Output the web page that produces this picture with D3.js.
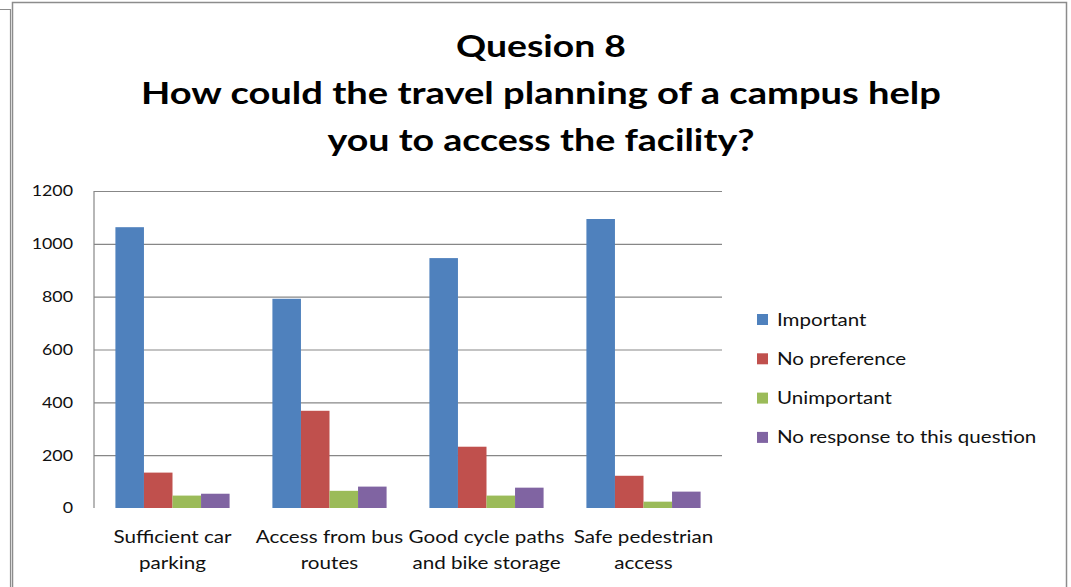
<!DOCTYPE html>
<html>
<head>
<meta charset="utf-8">
<script src="https://cdn.jsdelivr.net/npm/d3@7"></script>
<style>
  html, body { margin: 0; padding: 0; background: #fff; }
  svg { display: block; }
  text { font-family: Lato, "Open Sans", sans-serif; }
</style>
</head>
<body>
<svg id="chart" width="1071" height="587"></svg>
<script>
// ---- Data ----
const categories = [
  ["Sufficient car", "parking"],
  ["Access from bus", "routes"],
  ["Good cycle paths", "and bike storage"],
  ["Safe pedestrian", "access"]
];
const seriesNames = ["Important", "No preference", "Unimportant", "No response to this question"];
const important    = [1063, 792, 946, 1094];
const noPreference = [134, 368, 232, 122];
const unimportant  = [47, 65, 47, 24];
const noResponse   = [54, 81, 77, 62];
const yTicks = [0, 200, 400, 600, 800, 1000, 1200];
const titleLines = ["Quesion 8", "How could the travel planning of a campus help", "you to access the facility?"];
const colors = ["#4F81BD", "#C0504D", "#9BBB59", "#8064A2"];

const seriesValues = [important, noPreference, unimportant, noResponse];
const catKeys = categories.map(c => c.join(" "));

const svg = d3.select("#chart");

// horizontal stretch helper (reference text is wide relative to its height)
function stretch(sel, f) {
  sel.each(function () {
    const w = this.getComputedTextLength();
    d3.select(this).attr("textLength", w * f).attr("lengthAdjust", "spacingAndGlyphs");
  });
}

// Borders
svg.append("path")
  .attr("d", "M0,9.5 H10.5 V600")
  .attr("fill", "none").attr("stroke", "#8c8c8c").attr("stroke-width", 1.2);
svg.append("rect")
  .attr("x", 12.5).attr("y", 2.5).attr("width", 1054).attr("height", 600)
  .attr("fill", "none").attr("stroke", "#8c8c8c").attr("stroke-width", 1.5);

// Title
const titleWidths = [170, 800, 427];
const titleG = svg.append("g");
titleLines.forEach((t, i) => {
  const el = titleG.append("text")
    .attr("x", 541).attr("y", 57 + i * 46.8)
    .attr("text-anchor", "middle")
    .attr("font-size", 31).attr("font-weight", "bold")
    .attr("fill", "#000")
    .text(t);
  const w = el.node().getComputedTextLength();
  if (Math.abs(w - titleWidths[i]) > 2) {
    el.attr("textLength", titleWidths[i]).attr("lengthAdjust", "spacingAndGlyphs");
  }
});

// Scales
const plotL = 94, plotR = 722, plotT = 191, plotB = 508;
const x0 = d3.scaleBand().domain(catKeys).range([plotL, plotR]).padding(0);
const bw = x0.bandwidth();
const gap = bw * 0.75 / 5.5;
const x1 = d3.scaleBand().domain(seriesNames).range([gap, bw - gap]).padding(0);
const y = d3.scaleLinear().domain([0, 1200]).range([plotB, plotT]);

// Gridlines
svg.append("g")
  .attr("transform", `translate(${plotL},0)`)
  .call(d3.axisLeft(y).tickValues(yTicks.filter(v => v > 0)).tickSize(-(plotR - plotL)).tickFormat(""))
  .call(g => g.select(".domain").remove())
  .call(g => g.selectAll(".tick line").attr("stroke", "#878787").attr("stroke-width", 1.2));

// Y axis line + labels
svg.append("line")
  .attr("x1", plotL).attr("x2", plotL).attr("y1", plotT).attr("y2", plotB)
  .attr("stroke", "#878787").attr("stroke-width", 1.2);
svg.append("g")
  .attr("transform", `translate(${plotL},0)`)
  .call(d3.axisLeft(y).tickValues(yTicks).tickSize(0).tickPadding(21).tickFormat(d3.format("d")))
  .call(g => g.select(".domain").remove())
  .call(g => g.selectAll("text")
    .attr("font-size", 15.5).attr("fill", "#111")
    .style("font-family", "Lato, sans-serif"))
  .call(g => stretch(g.selectAll("text"), 1.15));

// Bars
const groups = svg.append("g").selectAll("g")
  .data(catKeys)
  .join("g")
  .attr("transform", d => `translate(${x0(d)},0)`);
groups.selectAll("rect")
  .data((d, ci) => seriesNames.map((s, si) => ({ s, si, v: seriesValues[si][ci] })))
  .join("rect")
  .attr("x", d => x1(d.s))
  .attr("width", x1.bandwidth())
  .attr("y", d => y(d.v))
  .attr("height", d => y(0) - y(d.v))
  .attr("fill", d => colors[d.si]);

// X labels
categories.forEach((lines, ci) => {
  const cx = x0(catKeys[ci]) + bw / 2;
  lines.forEach((ln, li) => {
    const t = svg.append("text")
      .attr("x", cx).attr("y", 543 + li * 26)
      .attr("text-anchor", "middle")
      .attr("font-size", 16.5).attr("fill", "#111")
      .text(ln);
    stretch(t, 1.25);
  });
});

// Legend
const legend = svg.append("g");
seriesNames.forEach((s, i) => {
  const cy = 319.5 + i * 39.3;
  legend.append("rect")
    .attr("x", 757).attr("y", cy - 5.5).attr("width", 11).attr("height", 11)
    .attr("fill", colors[i]);
  const t = legend.append("text")
    .attr("x", 777).attr("y", cy + 6)
    .attr("font-size", 16.5).attr("fill", "#111")
    .text(s);
  stretch(t, 1.245);
});
</script>
</body>
</html>
